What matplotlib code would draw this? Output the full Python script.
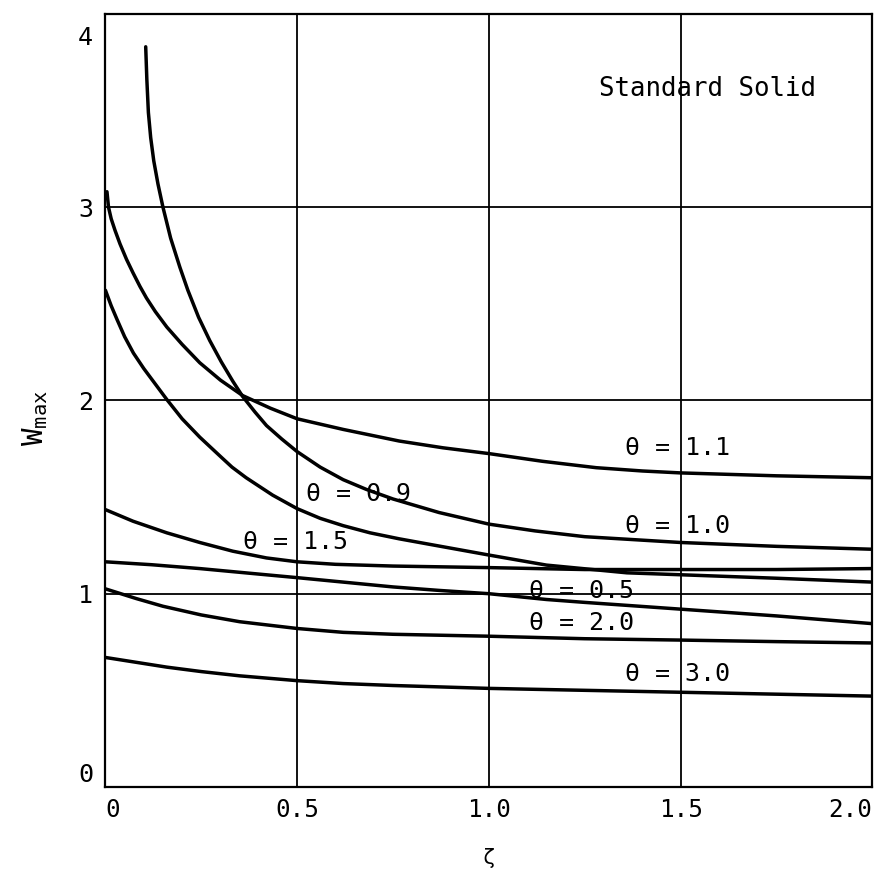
import matplotlib
matplotlib.use("Agg")
import matplotlib.pyplot as plt
from matplotlib.transforms import ScaledTranslation

plt.rcParams['font.family'] = ['DejaVu Sans Mono', 'DejaVu Sans']
plt.rcParams['mathtext.default'] = 'regular'

# W_max against zeta for the standard solid, one curve per theta
zeta_t10 = [0.105, 0.108, 0.112, 0.118, 0.126, 0.137, 0.150, 0.170, 0.194, 0.215, 0.243,
            0.272, 0.302, 0.332, 0.358, 0.39, 0.42, 0.46, 0.5, 0.56, 0.62, 0.68, 0.75,
            0.87, 1.0, 1.12, 1.25, 1.5, 1.75, 2.0]
w_t10 = [3.83, 3.66, 3.49, 3.36, 3.24, 3.12, 3.00, 2.84, 2.69, 2.57, 2.43,
         2.31, 2.20, 2.10, 2.02, 1.94, 1.87, 1.80, 1.735, 1.655, 1.59, 1.54, 1.49,
         1.42, 1.36, 1.325, 1.295, 1.265, 1.245, 1.23]

zeta_t11 = [0.004, 0.008, 0.015, 0.025, 0.038, 0.055, 0.072, 0.09, 0.107, 0.13, 0.16, 0.2,
            0.246, 0.3, 0.358, 0.43, 0.5, 0.62, 0.766, 0.88, 1.0, 1.14, 1.28, 1.4, 1.5,
            1.75, 2.0]
w_t11 = [3.08, 3.00, 2.94, 2.88, 2.81, 2.73, 2.66, 2.59, 2.53, 2.46, 2.38, 2.29,
         2.195, 2.105, 2.025, 1.96, 1.905, 1.85, 1.79, 1.755, 1.725, 1.685, 1.652, 1.635, 1.625,
         1.61, 1.60]

zeta_t09 = [0.0, 0.015, 0.03, 0.05, 0.073, 0.1, 0.13, 0.16, 0.2, 0.246, 0.3, 0.33, 0.367,
            0.436, 0.5, 0.56, 0.62, 0.69, 0.766, 0.88, 1.0, 1.15, 1.36, 1.5, 1.75, 2.0]
w_t09 = [2.57, 2.49, 2.42, 2.33, 2.245, 2.165, 2.085, 2.005, 1.905, 1.81, 1.71, 1.655, 1.60,
         1.51, 1.44, 1.39, 1.352, 1.315, 1.284, 1.243, 1.20, 1.148, 1.108, 1.098, 1.08, 1.06]

zeta_t15 = [0.0, 0.036, 0.072, 0.16, 0.246, 0.332, 0.42, 0.5, 0.6, 0.75, 1.0, 1.25, 1.5,
            1.75, 2.0]
w_t15 = [1.435, 1.405, 1.375, 1.315, 1.265, 1.22, 1.185, 1.165, 1.152, 1.143, 1.135, 1.125,
         1.125, 1.125, 1.13]

zeta_t05 = [0.0, 0.12, 0.246, 0.37, 0.5, 0.62, 0.75, 0.87, 1.0, 1.15, 1.25, 1.5, 1.75, 2.0]
w_t05 = [1.165, 1.15, 1.13, 1.107, 1.083, 1.06, 1.035, 1.017, 1.0, 0.97, 0.955, 0.92,
         0.885, 0.845]

zeta_t20 = [0.0, 0.04, 0.08, 0.15, 0.25, 0.35, 0.5, 0.62, 0.75, 1.0, 1.25, 1.5, 1.75, 2.0]
w_t20 = [1.025, 1.0, 0.975, 0.935, 0.89, 0.855, 0.82, 0.80, 0.79, 0.78, 0.767, 0.76,
         0.752, 0.745]

zeta_t30 = [0.0, 0.08, 0.16, 0.25, 0.35, 0.5, 0.62, 0.75, 1.0, 1.25, 1.5, 1.75, 2.0]
w_t30 = [0.67, 0.645, 0.62, 0.597, 0.575, 0.55, 0.535, 0.525, 0.51, 0.50, 0.49, 0.48, 0.47]

curves = [
    (zeta_t10, w_t10), (zeta_t11, w_t11), (zeta_t09, w_t09), (zeta_t15, w_t15),
    (zeta_t05, w_t05), (zeta_t20, w_t20), (zeta_t30, w_t30),
]

# curve labels: text, zeta at left edge of text, W at text centre
label_texts = ["θ = 1.1", "θ = 1.0", "θ = 0.9", "θ = 1.5", "θ = 0.5", "θ = 2.0", "θ = 3.0"]
label_zeta = [1.356, 1.356, 0.524, 0.358, 1.104, 1.104, 1.356]
label_w = [1.755, 1.35, 1.517, 1.265, 1.015, 0.85, 0.585]

x_ticks = [0, 0.5, 1.0, 1.5, 2.0]
x_ticklabels = ["0", "0.5", "1.0", "1.5", "2.0"]
y_ticks = [0, 1, 2, 3, 4]
y_ticklabels = ["0", "1", "2", "3", "4"]

fig = plt.figure(figsize=(8.75, 8.71), dpi=100)
ax = fig.add_axes([0.1205, 0.0965, 0.8765, 0.8875])

for zs, ws in curves:
    ax.plot(zs, ws, color='black', lw=2.5, solid_capstyle='round', solid_joinstyle='round', zorder=3)

for txt, zx, wy in zip(label_texts, label_zeta, label_w):
    ax.text(zx, wy, txt, fontsize=18, ha='left', va='center', zorder=4)

ax.text(1.286, 3.61, "Standard Solid", fontsize=18.5, ha='left', va='center', zorder=4)

ax.set_xlim(0, 2.0)
ax.set_ylim(0, 4.0)
ax.set_xticks(x_ticks)
ax.set_xticklabels(x_ticklabels, fontsize=17.5)
ax.set_yticks(y_ticks)
ax.set_yticklabels(y_ticklabels, fontsize=18)
ax.tick_params(axis='both', length=0)
ax.tick_params(axis='x', pad=8)
ax.tick_params(axis='y', pad=9)

xl = ax.get_xticklabels()
xl[0].set_ha('left')
xl[-1].set_ha('right')
yl = ax.get_yticklabels()
yl[0].set_va('bottom')
yl[-1].set_transform(yl[-1].get_transform() + ScaledTranslation(0, -0.22, fig.dpi_scale_trans))

ax.grid(True, color='black', lw=1.3)
ax.set_axisbelow(True)
for sp in ax.spines.values():
    sp.set_linewidth(1.6)
    sp.set_color('black')

ax.set_xlabel("ζ", fontsize=15)
ax.xaxis.set_label_coords(0.5, -0.079)
ax.set_ylabel(r"$\mathregular{W_{max}}$", fontsize=21)
ax.yaxis.set_label_coords(-0.072, 0.477)

fig.savefig("out.png", dpi=100)
